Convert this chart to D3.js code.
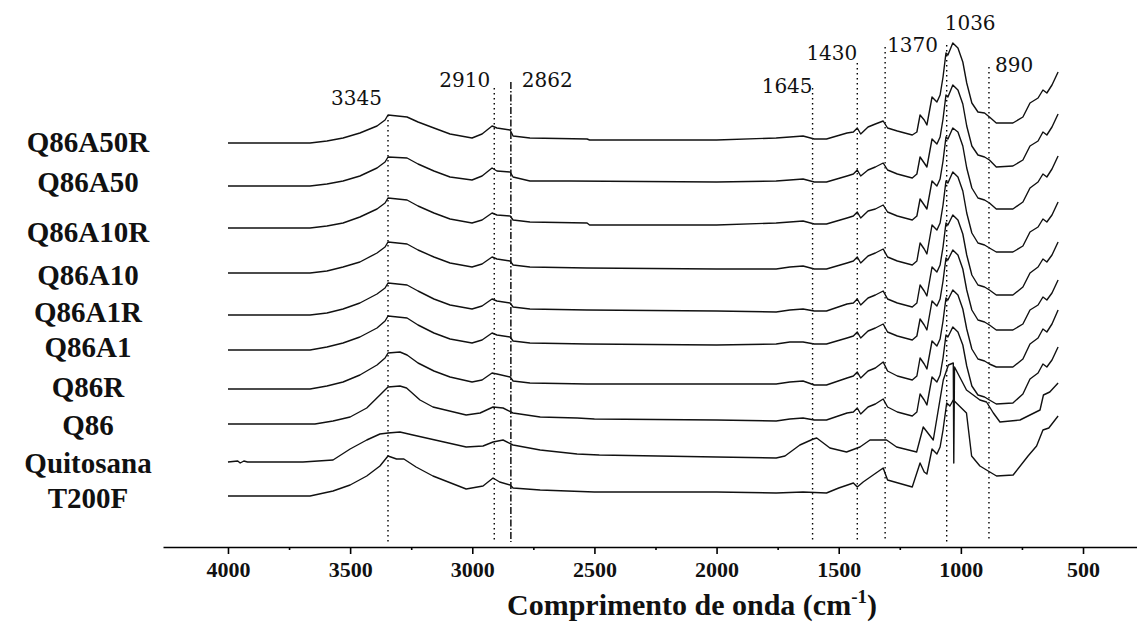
<!DOCTYPE html>
<html>
<head>
<meta charset="utf-8">
<script src="https://cdn.jsdelivr.net/npm/d3@7"></script>
<style>
  body { margin: 0; background: #fff; }
</style>
</head>
<body>
<div id="chart"></div>
<script>
// ---- data (absorbance, a.u.; each spectrum is [wavenumber, value]) ----
const sampleNames = ["Q86A50R", "Q86A50", "Q86A10R", "Q86A10", "Q86A1R", "Q86A1", "Q86R", "Q86", "Quitosana", "T200F"];
const sampleOffsets = [404, 361, 319, 274, 232, 197, 158, 123, 85, 51];

const sQ86A50R = [[4000,0],[3664,0],[3595,2],[3529,5],[3460,10],[3390,17],[3357,23],[3345,28],[3267,26],[3222,21],[3157,15],[3091,9],[3001,5],[2960,9],[2919,17],[2899,15],[2845,13],[2833,7],[2764,5],[2530,4],[2520,3],[2000,3],[1756,5],[1700,6],[1646,7],[1600,4],[1550,4],[1466,10],[1440,11],[1424,15],[1410,9],[1380,16],[1350,19],[1318,22],[1300,15],[1260,12],[1199,8],[1180,11],[1167,28],[1150,23],[1139,18],[1118,46],[1098,41],[1085,48],[1073,66],[1061,90],[1053,88],[1033,100],[1012,95],[992,81],[976,60],[955,40],[930,31],[903,30],[883,26],[855,20],[787,20],[746,26],[717,40],[684,45],[664,53],[648,50],[627,58],[602,71]];
const sQ86A50 = [[4000,0],[3664,0],[3595,2],[3529,5],[3460,10],[3390,18],[3357,24],[3345,29],[3267,28],[3222,22],[3157,15],[3091,9],[3001,6],[2960,10],[2919,18],[2899,15],[2845,14],[2833,9],[2764,5],[2600,5],[2000,4],[1756,5],[1700,6],[1646,7],[1600,4],[1550,4],[1466,10],[1440,12],[1424,16],[1410,10],[1380,16],[1350,19],[1318,23],[1300,16],[1260,12],[1199,8],[1180,12],[1167,29],[1150,23],[1139,19],[1118,47],[1098,42],[1085,49],[1073,67],[1061,91],[1053,89],[1033,101],[1012,96],[992,82],[976,60],[955,40],[930,31],[903,29],[883,26],[855,19],[787,20],[746,26],[717,40],[684,45],[664,54],[648,51],[627,59],[602,72]];
const sQ86A10R = [[4000,0],[3664,0],[3595,2],[3529,5],[3460,11],[3390,19],[3357,25],[3345,30],[3267,28],[3222,22],[3157,15],[3091,9],[3001,5],[2960,8],[2919,15],[2899,13],[2845,12],[2833,8],[2764,6],[2530,5],[2520,3],[2000,3],[1756,5],[1700,6],[1646,7],[1600,4],[1550,4],[1466,10],[1440,12],[1424,16],[1410,10],[1380,17],[1350,19],[1318,23],[1300,16],[1260,12],[1199,8],[1180,12],[1167,29],[1150,23],[1139,19],[1118,47],[1098,42],[1085,49],[1073,67],[1061,91],[1053,89],[1033,100],[1012,96],[992,82],[976,60],[955,40],[930,30],[903,28],[883,25],[855,19],[787,19],[746,26],[717,40],[684,46],[664,54],[648,51],[627,59],[602,72]];
const sQ86A10 = [[4000,0],[3664,0],[3595,2],[3529,6],[3460,11],[3390,20],[3357,26],[3345,31],[3267,29],[3222,23],[3157,16],[3091,10],[3001,6],[2960,9],[2919,16],[2899,14],[2845,12],[2833,8],[2764,6],[2530,5],[2000,4],[1756,4],[1700,6],[1646,7],[1600,4],[1550,4],[1466,10],[1440,12],[1424,16],[1410,10],[1380,17],[1350,20],[1318,24],[1300,16],[1260,12],[1199,8],[1180,12],[1167,30],[1150,24],[1139,19],[1118,48],[1098,43],[1085,50],[1073,68],[1061,92],[1053,90],[1033,101],[1012,96],[992,82],[976,60],[955,40],[930,30],[903,28],[883,25],[855,21],[787,21],[746,27],[717,41],[684,46],[664,54],[648,51],[627,58],[602,71]];
const sQ86A1R = [[4000,0],[3664,0],[3595,2],[3529,6],[3460,12],[3390,21],[3357,27],[3345,32],[3267,30],[3222,24],[3157,16],[3091,10],[3001,6],[2960,9],[2919,16],[2899,14],[2845,12],[2833,8],[2764,6],[2530,5],[2000,4],[1756,3],[1700,5],[1646,6],[1600,4],[1550,4],[1466,11],[1440,12],[1424,16],[1410,10],[1380,17],[1350,20],[1318,24],[1300,16],[1260,12],[1199,8],[1180,12],[1167,30],[1150,24],[1139,19],[1118,48],[1098,43],[1085,50],[1073,68],[1061,92],[1053,90],[1033,100],[1012,95],[992,81],[976,60],[955,40],[930,30],[903,28],[883,25],[855,20],[787,20],[746,28],[717,42],[684,48],[664,56],[648,53],[627,60],[602,73]];
const sQ86A1 = [[4000,0],[3664,0],[3595,3],[3529,7],[3460,13],[3390,22],[3357,29],[3345,34],[3267,32],[3222,25],[3157,17],[3091,11],[3001,7],[2960,10],[2919,17],[2899,15],[2845,13],[2833,9],[2764,7],[2530,6],[2000,5],[1756,6],[1700,8],[1646,8],[1600,6],[1550,6],[1466,12],[1440,14],[1424,18],[1410,12],[1380,19],[1350,22],[1318,26],[1300,18],[1260,14],[1199,10],[1180,14],[1167,31],[1150,25],[1139,20],[1118,49],[1098,44],[1085,51],[1073,69],[1061,92],[1053,90],[1033,100],[1012,95],[992,81],[976,60],[955,40],[930,30],[903,28],[883,25],[855,20],[787,20],[746,26],[717,40],[684,45],[664,53],[648,50],[627,57],[602,70]];
const sQ86R = [[4000,0],[3664,0],[3595,3],[3529,7],[3460,14],[3390,24],[3357,31],[3345,36],[3296,37],[3267,34],[3222,26],[3157,18],[3091,12],[3001,7],[2960,9],[2919,16],[2899,15],[2845,12],[2833,8],[2764,6],[2530,5],[2000,5],[1756,5],[1700,7],[1646,8],[1600,4],[1550,4],[1466,11],[1440,13],[1424,17],[1410,11],[1380,18],[1350,21],[1318,27],[1300,18],[1260,13],[1199,9],[1180,13],[1167,31],[1150,25],[1139,20],[1118,48],[1098,43],[1085,50],[1073,68],[1061,91],[1053,89],[1033,99],[1012,94],[992,80],[976,60],[955,40],[930,30],[903,28],[883,25],[855,22],[787,22],[746,30],[717,45],[684,51],[664,60],[648,57],[627,65],[602,79]];
const sQ86 = [[4000,0],[3644,0],[3570,3],[3500,7],[3432,16],[3378,29],[3345,37],[3296,38],[3269,36],[3214,24],[3161,17],[3025,9],[2968,11],[2915,17],[2874,16],[2833,11],[2722,7],[2571,6],[2500,5],[2000,4],[1756,3],[1700,5],[1646,6],[1600,4],[1550,4],[1466,11],[1440,12],[1424,16],[1410,10],[1380,17],[1350,20],[1318,25],[1300,17],[1260,12],[1199,8],[1180,12],[1167,30],[1150,24],[1139,19],[1118,47],[1098,42],[1085,49],[1073,66],[1061,89],[1053,87],[1033,97],[1012,92],[992,79],[976,58],[955,38],[930,29],[903,27],[883,24],[855,20],[787,21],[746,30],[717,45],[684,51],[664,60],[648,57],[627,64],[602,77]];
const sQuitosana = [[4000,0],[3960,1],[3950,-1],[3935,1],[3920,0],[3693,0],[3570,2],[3500,13],[3432,22],[3378,28],[3345,29],[3296,30],[3243,27],[3025,15],[2956,16],[2915,20],[2874,22],[2833,17],[2722,12],[2571,8],[2480,7],[2000,5],[1756,4],[1720,6],[1659,17],[1604,23],[1590,24],[1536,14],[1468,10],[1413,15],[1372,22],[1304,22],[1263,15],[1181,10],[1154,35],[1113,22],[1072,82],[1051,97],[1031,99],[1029,-1],[1026,95],[977,72],[922,62],[895,60],[867,49],[840,40],[758,42],[676,52],[662,67],[636,70],[602,79]];
const sT200F = [[4000,0],[3664,0],[3570,5],[3500,11],[3432,20],[3378,30],[3345,40],[3310,37],[3280,37],[3230,29],[3161,20],[3025,7],[2956,10],[2915,18],[2888,14],[2845,11],[2833,8],[2722,6],[2500,4],[2000,4],[1756,3],[1646,4],[1550,3],[1500,8],[1440,13],[1424,9],[1400,14],[1318,28],[1300,16],[1199,9],[1167,33],[1150,24],[1139,22],[1118,47],[1098,42],[1085,49],[1073,66],[1058,93],[1045,90],[1031,96],[977,83],[956,40],[922,30],[895,26],[854,20],[786,21],[725,40],[690,50],[664,66],[640,68],[602,80]];
const spectra = [sQ86A50R, sQ86A50, sQ86A10R, sQ86A10, sQ86A1R, sQ86A1, sQ86R, sQ86, sQuitosana, sT200F];

const peakPositions = [3345, 2910, 2842, 1607, 1424, 1310, 1058, 885];
const peakLabels = ["3345", "2910", "2862", "1645", "1430", "1370", "1036", "890"];
const xTicks = [4000, 3500, 3000, 2500, 2000, 1500, 1000, 500];
const xMinorTicks = [3750, 3250, 2750, 2250, 1750, 1250, 750];

// ---- layout ----
const width = 1137, height = 625;
const axisY = 547;
const nameX = 88;
const nameY = [152, 192, 242, 285, 322, 357, 397, 435, 473, 508];
// label placement of each marked band: top of guide line, text anchor, dx, baseline
const peakLayout = [
  { top: 115, anchor: "end",   dx: -6, y: 105 },
  { top: 88,  anchor: "end",   dx: -4, y: 87 },
  { top: 82,  anchor: "start", dx: 11, y: 87 },
  { top: 88,  anchor: "end",   dx: 0,  y: 93 },
  { top: 63,  anchor: "end",   dx: 0,  y: 60 },
  { top: 47,  anchor: "start", dx: 2,  y: 52 },
  { top: 45,  anchor: "start", dx: -2, y: 30 },
  { top: 67,  anchor: "start", dx: 6,  y: 72 }
];

const svg = d3.select("#chart").append("svg")
  .attr("width", width).attr("height", height)
  .style("font-family", "'Liberation Serif', 'DejaVu Serif', serif");

const x = d3.scaleLinear().domain([4266, 279]).range([163, 1137]);
const y = d3.scaleLinear().domain([0, 500]).range([axisY, 47]);

// guide lines for the marked bands
svg.append("g").selectAll("line")
  .data(peakPositions)
  .enter()
  .append("line")
  .attr("x1", d => x(d)).attr("x2", d => x(d))
  .attr("y1", (d, i) => peakLayout[i].top)
  .attr("y2", axisY - 5)
  .attr("stroke", "#000")
  .attr("stroke-width", 1.4)
  .attr("stroke-dasharray", (d, i) => i === 2 ? "7,2,1.5,2" : "1.5,3.5");

svg.append("g").selectAll("text")
  .data(peakLabels)
  .enter()
  .append("text")
  .attr("x", (d, i) => x(peakPositions[i]) + peakLayout[i].dx)
  .attr("y", (d, i) => peakLayout[i].y)
  .attr("text-anchor", (d, i) => peakLayout[i].anchor)
  .attr("font-family", "'DejaVu Serif', serif")
  .attr("font-size", "20px")
  .attr("fill", "#111")
  .text(d => d);

// spectra, stacked
const line = d3.line()
  .x(d => x(d[0]))
  .y(d => y(d[1]));

svg.append("g").selectAll("path")
  .data(spectra)
  .enter()
  .append("path")
  .attr("fill", "none")
  .attr("stroke", "#111")
  .attr("stroke-width", 1.4)
  .attr("stroke-linejoin", "round")
  .attr("d", (s, i) => line(s.map(p => [p[0], p[1] + sampleOffsets[i]])));

// sample names
svg.append("g").selectAll("text")
  .data(sampleNames)
  .enter()
  .append("text")
  .attr("x", nameX)
  .attr("y", (d, i) => nameY[i])
  .attr("text-anchor", "middle")
  .attr("font-size", "29px")
  .attr("font-weight", "bold")
  .attr("fill", "#111")
  .text(d => d);

// x axis
const gx = svg.append("g")
  .attr("transform", "translate(0," + axisY + ")")
  .call(d3.axisBottom(x).tickValues(xTicks).tickSize(7).tickSizeOuter(0).tickFormat(d3.format("d")));
gx.select(".domain").attr("stroke-width", 1.6);
gx.selectAll(".tick line").attr("stroke-width", 1.6);
gx.selectAll(".tick text")
  .attr("y", 14)
  .attr("font-family", "'Liberation Serif', serif")
  .attr("font-size", "22px")
  .attr("font-weight", "bold")
  .attr("fill", "#111");

svg.append("g")
  .attr("transform", "translate(0," + axisY + ")")
  .call(d3.axisBottom(x).tickValues(xMinorTicks).tickSize(3).tickFormat(""))
  .call(g => g.select(".domain").remove())
  .selectAll(".tick line").attr("stroke-width", 1.6);

// axis title
const title = svg.append("text")
  .attr("x", 692)
  .attr("y", 615)
  .attr("text-anchor", "middle")
  .attr("font-size", "30px")
  .attr("font-weight", "bold")
  .attr("fill", "#111");
title.append("tspan").text("Comprimento de onda (cm");
title.append("tspan").attr("font-size", "19px").attr("dy", -12).text("-1");
title.append("tspan").attr("dy", 12).text(")");
</script>
</body>
</html>
